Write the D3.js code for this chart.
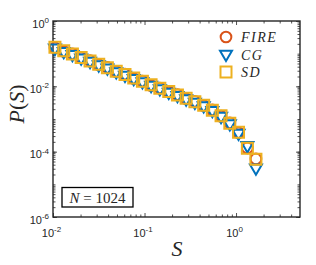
<!DOCTYPE html>
<html>
<head>
<meta charset="utf-8">
<script src="https://cdn.jsdelivr.net/npm/d3@7"></script>
<style>
  body { margin: 0; background: #fff; }
  svg text { fill: #262626; }
</style>
</head>
<body>
<svg id="chart"></svg>
<script>
// avalanche sizes (shared bins)
const sizes = [0.0105, 0.0131, 0.0163, 0.0203, 0.0254, 0.0316, 0.0393, 0.0491, 0.0612, 0.0762,
               0.0949, 0.118, 0.147, 0.184, 0.229, 0.285, 0.355, 0.443, 0.551, 0.686,
               0.855, 1.065, 1.33, 1.65];
const fireP = [0.150, 0.118, 0.0990, 0.0740, 0.0610, 0.0460, 0.0380, 0.0280, 0.0235, 0.0175,
               0.0145, 0.0106, 0.00890, 0.00670, 0.00555, 0.00415, 0.00345, 0.00255, 0.00190, 0.00122,
               0.00076, 0.00038, 0.000130, 0.000060];
const cgP   = [0.145, 0.115, 0.0930, 0.0720, 0.0570, 0.0445, 0.0355, 0.0275, 0.0215, 0.0170,
               0.0135, 0.0105, 0.00830, 0.00650, 0.00515, 0.00405, 0.00320, 0.00250, 0.00178, 0.00118,
               0.00070, 0.00036, 0.000150, 0.000031];
const sdP   = [0.157, 0.123, 0.0970, 0.0763, 0.0597, 0.0473, 0.0370, 0.0291, 0.0229, 0.0180,
               0.0142, 0.0111, 0.00877, 0.00690, 0.00543, 0.00430, 0.00336, 0.00263, 0.00185, 0.00125,
               0.00074, 0.00039, 0.000127, 0.0000583];
const seriesNames = ["FIRE", "CG", "SD"];
const seriesColors = ["#D95319", "#0072BD", "#EDB120"];
const xTickExp = [-2, -1, 0];
const yTickExp = [0, -2, -4, -6];

const width = 316, height = 265;
const margin = { top: 21, right: 16, bottom: 48, left: 53 };

const svg = d3.select("#chart")
    .attr("width", width)
    .attr("height", height)
    .style("font-family", "'Liberation Sans', Arial, sans-serif");

const x = d3.scaleLog()
    .domain([0.01, 5])
    .range([margin.left, width - margin.right]);

const y = d3.scaleLog()
    .domain([1e-6, 1])
    .range([height - margin.bottom, margin.top]);

const axisColor = "#262626";

// minor ticks
const xMinor = [];
for (let e = -2; e <= 0; e++) for (let m = 2; m <= 9; m++) if (m * Math.pow(10, e) < 5) xMinor.push(m * Math.pow(10, e));
const yMinor = [];
for (let e = -6; e < 0; e++) for (let m = 1; m <= 9; m++) yMinor.push(m * Math.pow(10, e));

function sup(sel, exps) {
    sel.selectAll(".tick text").each(function(d, i) {
        const t = d3.select(this);
        const e = exps[i];
        t.text(null);
        t.append("tspan").text("10");
        t.append("tspan").attr("dy", "-0.55em").attr("font-size", "8px").text(e);
    });
}

const innerH = height - margin.bottom - margin.top;
const innerW = width - margin.right - margin.left;

// bottom
svg.append("g").attr("transform", `translate(0,${y.range()[0]})`)
    .call(d3.axisBottom(x).tickValues(xMinor).tickSize(-2.5).tickFormat(""));
const gx = svg.append("g").attr("transform", `translate(0,${y.range()[0]})`)
    .call(d3.axisBottom(x).tickValues(xTickExp.map(e => Math.pow(10, e))).tickSize(-4).tickPadding(12));
sup(gx, xTickExp);
gx.selectAll(".tick text").attr("font-size", "11px").attr("dx", "-2px");

// top mirrored ticks
svg.append("g").attr("transform", `translate(0,${margin.top})`)
    .call(d3.axisTop(x).tickValues(xMinor).tickSize(-2.5).tickFormat(""));
svg.append("g").attr("transform", `translate(0,${margin.top})`)
    .call(d3.axisTop(x).tickValues(xTickExp.map(e => Math.pow(10, e))).tickSize(-4).tickFormat(""));

// left
svg.append("g").attr("transform", `translate(${margin.left},0)`)
    .call(d3.axisLeft(y).tickValues(yMinor).tickSize(-2.5).tickFormat(""));
const gy = svg.append("g").attr("transform", `translate(${margin.left},0)`)
    .call(d3.axisLeft(y).tickValues(yTickExp.map(e => Math.pow(10, e))).tickSize(-4).tickPadding(4));
sup(gy, yTickExp);
gy.selectAll(".tick text").attr("font-size", "11px").attr("dy", "0.55em");

// right mirrored ticks
svg.append("g").attr("transform", `translate(${width - margin.right},0)`)
    .call(d3.axisRight(y).tickValues(yMinor).tickSize(-2.5).tickFormat(""));
svg.append("g").attr("transform", `translate(${width - margin.right},0)`)
    .call(d3.axisRight(y).tickValues(yTickExp.map(e => Math.pow(10, e))).tickSize(-4).tickFormat(""));

svg.selectAll(".domain").remove();
svg.selectAll(".tick line").attr("stroke", axisColor).attr("stroke-width", 0.8);
svg.selectAll(".tick text").attr("fill", axisColor);

// box
svg.append("rect")
    .attr("x", margin.left).attr("y", margin.top)
    .attr("width", innerW).attr("height", innerH)
    .attr("fill", "none").attr("stroke", axisColor).attr("stroke-width", 1.4);

// markers
const markerPath = [
    () => d3.symbol().type(d3.symbolCircle).size(90)(),
    () => "M-6,-3.8L6,-3.8L0,6.5Z",
    () => "M-5.5,-5.5L5.5,-5.5L5.5,5.5L-5.5,5.5Z"
];
const data = [fireP, cgP, sdP];

data.forEach((vals, si) => {
    svg.append("g").selectAll("path")
        .data(vals.map((p, i) => ({ s: sizes[i], p })))
        .enter()
        .append("path")
        .attr("d", markerPath[si]())
        .attr("transform", d => `translate(${x(d.s)},${y(d.p)})`)
        .attr("fill", "none")
        .attr("stroke", seriesColors[si])
        .attr("stroke-width", 2);
});

// legend
const legend = svg.append("g");
seriesNames.forEach((name, i) => {
    const ly = 37 + i * 17.5;
    legend.append("path")
        .attr("d", markerPath[i]())
        .attr("transform", `translate(226,${ly})`)
        .attr("fill", "none")
        .attr("stroke", seriesColors[i])
        .attr("stroke-width", 2);
    legend.append("text")
        .attr("x", 241).attr("y", ly + 5)
        .attr("font-family", "'Liberation Serif', 'DejaVu Serif', serif")
        .attr("font-style", "italic")
        .attr("font-size", "14px")
        .attr("letter-spacing", "1.5px")
        .attr("fill", "#000")
        .text(name);
});

// N box
svg.append("rect")
    .attr("x", 62).attr("y", 187.5).attr("width", 71).attr("height", 19.5)
    .attr("fill", "#fff").attr("stroke", "#000").attr("stroke-width", 1.3);
const nt = svg.append("text")
    .attr("x", 97.5).attr("y", 202.5)
    .attr("text-anchor", "middle")
    .attr("font-family", "'Liberation Serif', 'DejaVu Serif', serif")
    .attr("font-size", "15px")
    .attr("fill", "#000");
nt.append("tspan").attr("font-style", "italic").text("N");
nt.append("tspan").text(" = 1024");

// axis labels
svg.append("text")
    .attr("x", 177).attr("y", 256)
    .attr("text-anchor", "middle")
    .attr("font-family", "'Liberation Serif', 'DejaVu Serif', serif")
    .attr("font-style", "italic")
    .attr("font-size", "22px")
    .attr("fill", "#000")
    .text("S");

const yl = svg.append("text")
    .attr("transform", "translate(24,104) rotate(-90)")
    .attr("text-anchor", "middle")
    .attr("font-family", "'Liberation Serif', 'DejaVu Serif', serif")
    .attr("font-size", "22px")
    .attr("fill", "#000");
yl.append("tspan").attr("font-style", "italic").text("P");
yl.append("tspan").text("(");
yl.append("tspan").attr("font-style", "italic").text("S");
yl.append("tspan").text(")");
</script>
</body>
</html>
